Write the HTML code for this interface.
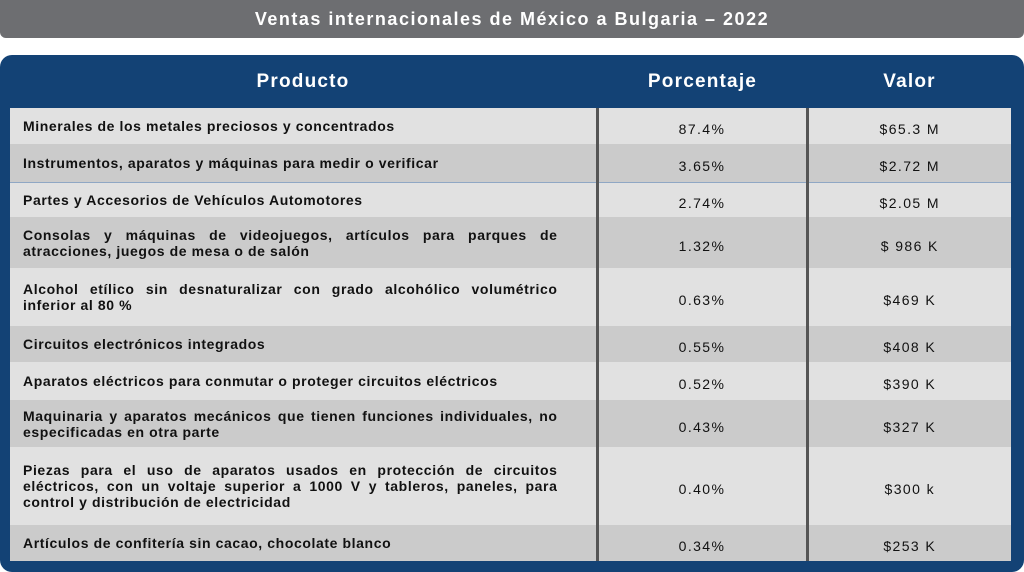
<!DOCTYPE html>
<html><head><meta charset="utf-8"><style>
body{margin:0;width:1024px;height:572px;overflow:hidden;background:#fff;font-family:"Liberation Sans",sans-serif;position:relative}
#title{position:absolute;left:0;top:0;width:1024px;height:38px;background:#6d6e71;border-radius:0 0 6px 6px;color:#fff;font-weight:bold;font-size:18px;letter-spacing:1.5px;line-height:38px;text-align:center}
#panel{position:absolute;left:0;top:55px;width:1024px;height:517px;background:#134275;border-radius:12px}
.hd{position:absolute;top:55px;height:53px;line-height:53px;color:#fff;font-weight:bold;font-size:19px;letter-spacing:1.2px;text-align:center}
table{position:absolute;left:10px;top:108px;width:1001px;border-collapse:collapse;table-layout:fixed;font-size:14px;color:#111}
td{padding:0;vertical-align:middle}
td.p{padding:0 38px 0 13px;font-weight:bold;text-align:justify;letter-spacing:0.6px;line-height:16px;box-sizing:border-box}
td.c{text-align:center;border-left:3px solid #555;padding-top:6px;font-size:14px;letter-spacing:1.4px}
tr.l{background:#e1e1e1}tr.d{background:#cbcbcb}
</style></head><body>
<div id="title">Ventas internacionales de México a Bulgaria – 2022</div>
<div id="panel"></div>
<div class="hd" style="left:10px;width:586px">Producto</div>
<div class="hd" style="left:599px;width:207px">Porcentaje</div>
<div class="hd" style="left:808px;width:203px">Valor</div>
<table>
<colgroup><col style="width:587px"><col style="width:210px"><col style="width:204px"></colgroup>
<tr class="l" style="height:36px"><td class="p">Minerales de los metales preciosos y concentrados</td><td class="c">87.4%</td><td class="c">$65.3 M</td></tr>
<tr class="d" style="height:38px"><td class="p">Instrumentos, aparatos y máquinas para medir o verificar</td><td class="c">3.65%</td><td class="c">$2.72 M</td></tr>
<tr class="l" style="height:35px;border-top:1px solid #8fa7c4"><td class="p">Partes y Accesorios de Vehículos Automotores</td><td class="c">2.74%</td><td class="c">$2.05 M</td></tr>
<tr class="d" style="height:51px"><td class="p">Consolas y máquinas de videojuegos, artículos para parques de atracciones, juegos de mesa o de salón</td><td class="c">1.32%</td><td class="c">$ 986 K</td></tr>
<tr class="l" style="height:58px"><td class="p">Alcohol etílico sin desnaturalizar con grado alcohólico volumétrico inferior al 80 %</td><td class="c">0.63%</td><td class="c">$469 K</td></tr>
<tr class="d" style="height:36px"><td class="p">Circuitos electrónicos integrados</td><td class="c">0.55%</td><td class="c">$408 K</td></tr>
<tr class="l" style="height:38px"><td class="p">Aparatos eléctricos para conmutar o proteger circuitos eléctricos</td><td class="c">0.52%</td><td class="c">$390 K</td></tr>
<tr class="d" style="height:47px"><td class="p">Maquinaria y aparatos mecánicos que tienen funciones individuales, no especificadas en otra parte</td><td class="c">0.43%</td><td class="c">$327 K</td></tr>
<tr class="l" style="height:78px"><td class="p">Piezas para el uso de aparatos usados en protección de circuitos eléctricos, con un voltaje superior a 1000 V y tableros, paneles, para control y distribución de electricidad</td><td class="c">0.40%</td><td class="c">$300 k</td></tr>
<tr class="d" style="height:36px"><td class="p">Artículos de confitería sin cacao, chocolate blanco</td><td class="c">0.34%</td><td class="c">$253 K</td></tr>
</table>
</body></html>
